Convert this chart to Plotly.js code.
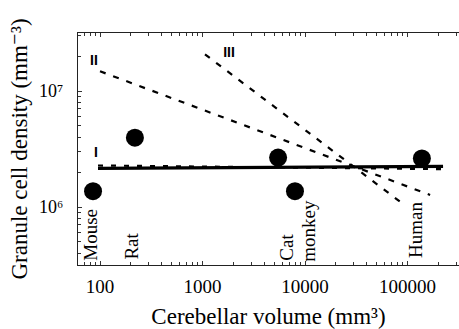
<!DOCTYPE html>
<html>
<head>
<meta charset="utf-8">
<script src="https://cdn.plot.ly/plotly-3.0.1.min.js"></script>
<style>html,body{margin:0;padding:0;background:#fff;}#chart{width:459px;height:329px;}</style>
</head>
<body>
<div id="chart"></div>
<script>
// Data
const species = ['Mouse', 'Rat', 'Cat', 'monkey', 'Human'];
const volume = [85.5, 219, 5460, 7980, 138000];          // mm^3
const density = [1.37e6, 3.96e6, 2.67e6, 1.37e6, 2.62e6]; // mm^-3

const lineI_x = [95.6, 222000];
const lineI_y = [2.15e6, 2.24e6];
const lineIdash_x = [95.6, 222000];
const lineIdash_y = [2.28e6, 2.12e6];
const lineII_x = [100, 166000];
const lineII_y = [1.48e7, 1.27e6];
const lineIII_x = [1057, 88300];
const lineIII_y = [2.07e7, 1.08e6];

const lineNames = ['I', 'II', 'III'];

const xTickVals = [100, 1000, 10000, 100000];
const xTickText = ['100', '1000', '10000', '100000'];
const yTickVals = [1e6, 1e7];
const yTickText = ['10\u2076', '10\u2077'];

const xMinor = [];
[10, 100, 1000, 10000, 100000].forEach(d => {
  for (let m = 2; m <= 9; m++) { const v = d * m; if (v >= 60 && v <= 320000) xMinor.push(v); }
});
const yMinor = [];
[1e5, 1e6, 1e7].forEach(d => {
  for (let m = 2; m <= 9; m++) { const v = d * m; if (v >= 3.2e5 && v <= 3.1e7) yMinor.push(v); }
});

const serif = 'Liberation Serif, DejaVu Serif, serif';

// label positions for line names (data units)
const lineLabelX = [91.4, 87.3, 1816];
const lineLabelY = [2.9e6, 1.80e7, 2.11e7];

const traces = [
  {x: lineI_x, y: lineI_y, mode: 'lines', line: {color: '#000', width: 3.2}, hoverinfo: 'skip'},
  {x: lineIdash_x, y: lineIdash_y, mode: 'lines', line: {color: '#000', width: 2.2, dash: '5px,8px'}, hoverinfo: 'skip'},
  {x: lineII_x, y: lineII_y, mode: 'lines', line: {color: '#000', width: 2.2, dash: '6px,8px'}, hoverinfo: 'skip'},
  {x: lineIII_x, y: lineIII_y, mode: 'lines', line: {color: '#000', width: 2.2, dash: '6px,8px'}, hoverinfo: 'skip'},
  {x: volume, y: density, mode: 'markers', marker: {color: '#000', size: 18}, text: species, hoverinfo: 'text'},
  {x: lineLabelX, y: lineLabelY, mode: 'text', text: lineNames,
   textposition: 'middle center', textfont: {family: 'Liberation Sans, Arial, sans-serif', size: 14, color: '#000', weight: 'bold'}, hoverinfo: 'skip'}
];

// species label positions (log10 units on both axes)
const speciesLabelPos = [[1.912, 5.761], [2.312, 5.667], [3.824, 5.658], [4.039, 5.795], [5.083, 5.803]];

const annotations = species.map((t, i) => ({
  x: speciesLabelPos[i][0], y: speciesLabelPos[i][1], xref: 'x', yref: 'y', text: t,
  showarrow: false, textangle: -90, xanchor: 'center', yanchor: 'middle',
  font: {family: serif, size: 19, color: '#000'}
}));

const layout = {
  width: 459, height: 329,
  margin: {l: 78, r: 0, t: 33, b: 64},
  paper_bgcolor: '#fff', plot_bgcolor: '#fff',
  showlegend: false,
  font: {family: serif, color: '#000'},
  xaxis: {
    type: 'log', range: [Math.log10(61), 5.502],
    tickmode: 'array', tickvals: xTickVals, ticktext: xTickText,
    ticks: 'inside', ticklen: 4, tickcolor: '#333', tickwidth: 1,
    minor: {tickmode: 'array', tickvals: xMinor, ticks: 'inside', ticklen: 3, tickcolor: '#333', showgrid: false},
    showline: true, linecolor: '#222', linewidth: 1.2, mirror: 'allticks',
    showgrid: false, zeroline: false,
    tickfont: {family: serif, size: 19, color: '#000'},
    ticklabelstandoff: 4,
    title: {text: 'Cerebellar volume (mm\u00B3)', font: {family: serif, size: 23, color: '#000'}, standoff: 12},
    automargin: false
  },
  yaxis: {
    type: 'log', range: [5.5, 7.5],
    tickmode: 'array', tickvals: yTickVals, ticktext: yTickText,
    ticks: 'inside', ticklen: 4, tickcolor: '#333', tickwidth: 1,
    minor: {tickmode: 'array', tickvals: yMinor, ticks: 'inside', ticklen: 3, tickcolor: '#333', showgrid: false},
    showline: true, linecolor: '#222', linewidth: 1.2, mirror: false,
    showgrid: false, zeroline: false,
    tickfont: {family: serif, size: 18, color: '#000'},
    ticklabelstandoff: 10,
    title: {text: 'Granule cell density (mm\u207B\u00B3)', font: {family: serif, size: 23, color: '#000'}, standoff: 4},
    automargin: false
  },
  annotations: annotations
};

Plotly.newPlot('chart', traces, layout, {displayModeBar: false});
</script>
</body>
</html>
